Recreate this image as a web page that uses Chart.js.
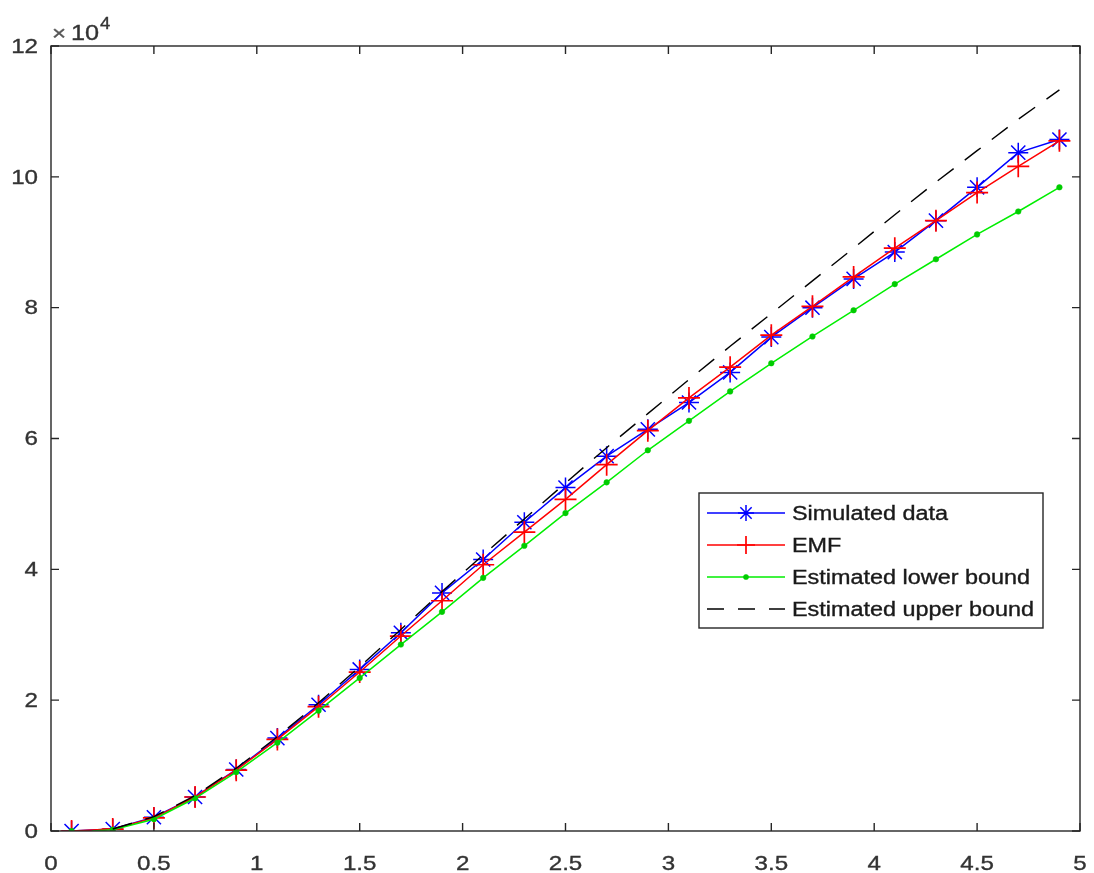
<!DOCTYPE html>
<html>
<head>
<meta charset="utf-8">
<script src="https://cdn.jsdelivr.net/npm/chart.js@4"></script>
<style>
  html, body { margin: 0; padding: 0; background: #fff; }
  #wrap { width: 1094px; height: 873px; }
</style>
</head>
<body>
<div id="wrap"><canvas id="c" width="1094" height="873"></canvas></div>
<script>
// Sample positions shared by the measured series
const xs = [0.1, 0.3, 0.5, 0.7, 0.9, 1.1, 1.3, 1.5, 1.7, 1.9, 2.1, 2.3, 2.5,
            2.7, 2.9, 3.1, 3.3, 3.5, 3.7, 3.9, 4.1, 4.3, 4.5, 4.7, 4.9];

// Simulated data
const simulated = [0, 300, 2100, 5200, 9400, 14200, 19300, 24700, 30300, 36400,
                   41500, 47200, 52500, 57300, 61400, 65500, 70100, 75500, 80000,
                   84400, 88500, 93300, 98400, 103700, 105700];

// EMF
const emf = [0, 300, 2000, 5200, 9300, 14000, 19000, 24300, 29800, 35200,
             40700, 45700, 50700, 56000, 61200, 66200, 70900, 75800, 80200,
             84700, 89100, 93300, 97600, 101600, 105500];

// Estimated lower bound (isolated value at 0.1, curve from 0.2 on)
const lowerX = [0.1, 0.15, 0.2, 0.3, 0.5, 0.7, 0.9, 1.1, 1.3, 1.5, 1.7, 1.9, 2.1,
                2.3, 2.5, 2.7, 2.9, 3.1, 3.3, 3.5, 3.7, 3.9, 4.1, 4.3, 4.5, 4.7, 4.9];
const lower = [0, null, 0, 200, 1800, 5000, 9000, 13500, 18400, 23400, 28500,
               33500, 38700, 43600, 48600, 53300, 58200, 62700, 67200, 71500,
               75600, 79600, 83600, 87400, 91200, 94700, 98400];

// Estimated upper bound
const upperX = [0.3, 0.5, 0.7, 0.9, 1.1, 1.3, 1.5, 1.7, 1.9, 2.1, 2.3, 2.5, 2.7,
                2.9, 3.1, 3.3, 3.5, 3.7, 3.9, 4.1, 4.3, 4.5, 4.7, 4.9];
const upper = [300, 2200, 5400, 9600, 14400, 19600, 25100, 30800, 36600, 42200,
               47700, 53200, 58600, 63800, 69000, 74100, 79100, 84100, 89100,
               94200, 99200, 104000, 108800, 113300];

// Axis ticks
const xTicks = [0, 0.5, 1, 1.5, 2, 2.5, 3, 3.5, 4, 4.5, 5];
const yTicks = [0, 20000, 40000, 60000, 80000, 100000, 120000];
const yExponent = 4;

const seriesNames = ['Simulated data', 'EMF', 'Estimated lower bound', 'Estimated upper bound'];

const pairs = (X, Y) => X.map((x, i) => ({ x: x, y: Y[i] }));

const AXIS_COLOR = '#262626';
const FONT = '"Liberation Sans", Arial, sans-serif';

// Helvetica-like labels drawn slightly wide
function stretchText(ctx, txt, x, y, align, size, sx) {
  ctx.save();
  ctx.font = size + 'px ' + FONT;
  const w = ctx.measureText(txt).width * sx;
  const x0 = align === 'center' ? x - w / 2 : (align === 'right' ? x - w : x);
  ctx.translate(x0, y);
  ctx.scale(sx, 1);
  ctx.textAlign = 'left';
  ctx.lineWidth = 0.35;
  ctx.strokeStyle = ctx.fillStyle;
  ctx.fillText(txt, 0, 0);
  ctx.strokeText(txt, 0, 0);
  ctx.restore();
}

// Boxed axes with inward ticks on all four sides, tick labels and the exponent
const boxAxes = {
  id: 'boxAxes',
  afterDatasetsDraw(chart) {
    const { ctx, chartArea: a, scales } = chart;
    const xs_ = scales.x, ys_ = scales.y;
    const tl = 8;
    ctx.save();
    ctx.strokeStyle = AXIS_COLOR;
    ctx.lineWidth = 1.4;
    ctx.beginPath();
    xs_.ticks.forEach(t => {
      const px = xs_.getPixelForValue(t.value);
      ctx.moveTo(px, a.bottom); ctx.lineTo(px, a.bottom - tl);
      ctx.moveTo(px, a.top); ctx.lineTo(px, a.top + tl);
    });
    ys_.ticks.forEach(t => {
      const py = ys_.getPixelForValue(t.value);
      ctx.moveTo(a.left, py); ctx.lineTo(a.left + tl, py);
      ctx.moveTo(a.right, py); ctx.lineTo(a.right - tl, py);
    });
    ctx.stroke();
    ctx.strokeRect(a.left, a.top, a.right - a.left, a.bottom - a.top);

    ctx.fillStyle = '#333333';
    ctx.textBaseline = 'alphabetic';
    xs_.ticks.forEach(t => {
      stretchText(ctx, String(t.value), xs_.getPixelForValue(t.value), 870, 'center', 21, 1.15);
    });
    ctx.textBaseline = 'middle';
    const f = Math.pow(10, yExponent);
    ys_.ticks.forEach(t => {
      stretchText(ctx, String(t.value / f), a.left - 13, ys_.getPixelForValue(t.value) + 1, 'right', 21, 1.15);
    });
    ctx.textBaseline = 'alphabetic';
    ctx.fillStyle = '#555555';
    stretchText(ctx, '\u00d7', a.left + 1, 40, 'left', 21, 1.15);
    ctx.fillStyle = '#333333';
    stretchText(ctx, '10', a.left + 20, 40, 'left', 22, 1.15);
    stretchText(ctx, String(yExponent), a.left + 49, 29, 'left', 16, 1.15);
    ctx.restore();
  }
};

// Boxed legend inside the plot area, built from the datasets
const boxLegend = {
  id: 'boxLegend',
  afterDraw(chart) {
    const { ctx } = chart;
    const bx = 699, by = 493, bw = 344, bh = 135;
    ctx.save();
    ctx.fillStyle = '#fff';
    ctx.fillRect(bx, by, bw, bh);
    ctx.strokeStyle = AXIS_COLOR;
    ctx.lineWidth = 1.4;
    ctx.strokeRect(bx, by, bw, bh);
    chart.data.datasets.forEach((ds, i) => {
      const cy = 513 + i * 32;
      ctx.save();
      ctx.strokeStyle = ds.borderColor;
      ctx.lineWidth = ds.borderWidth;
      ctx.setLineDash(ds.legendDash || []);
      ctx.beginPath();
      ctx.moveTo(707, cy); ctx.lineTo(785, cy);
      ctx.stroke();
      ctx.setLineDash([]);
      if (ds.legendRadius) {
        ctx.fillStyle = ds.pointBackgroundColor;
        ctx.strokeStyle = ds.pointBorderColor;
        ctx.lineWidth = ds.pointBorderWidth;
        Chart.helpers.drawPoint(ctx, {
          pointStyle: ds.pointStyle, radius: ds.legendRadius, rotation: 0,
          borderWidth: ds.pointBorderWidth
        }, 746, cy);
      }
      ctx.restore();
      ctx.fillStyle = '#1a1a1a';
      ctx.textBaseline = 'middle';
      stretchText(ctx, ds.label, 792, cy + 1.5, 'left', 19.5, 1.2);
    });
    ctx.restore();
  }
};

new Chart(document.getElementById('c'), {
  type: 'line',
  data: {
    datasets: [
      {
        label: seriesNames[0], data: pairs(xs, simulated), order: 4,
        borderColor: '#0000ff', borderWidth: 1.5,
        pointStyle: 'star', pointRadius: 10, legendRadius: 8,
        pointBorderColor: '#0000ff', pointBackgroundColor: '#0000ff', pointBorderWidth: 1.5
      },
      {
        label: seriesNames[1], data: pairs(xs, emf), order: 3,
        borderColor: '#ff0000', borderWidth: 1.5,
        pointStyle: 'cross', pointRadius: 11, legendRadius: 9,
        pointBorderColor: '#ff0000', pointBackgroundColor: '#ff0000', pointBorderWidth: 1.7
      },
      {
        label: seriesNames[2], data: pairs(lowerX, lower), order: 2,
        borderColor: '#00ee00', borderWidth: 1.5, spanGaps: false,
        pointStyle: 'circle',
        pointRadius: c => (c.raw && xs.includes(c.raw.x)) ? 2.8 : 0,
        legendRadius: 2.6,
        pointBorderColor: '#00cc00', pointBackgroundColor: '#00cc00', pointBorderWidth: 0.5
      },
      {
        label: seriesNames[3], data: pairs(upperX, upper), order: 1,
        borderColor: '#000000', borderWidth: 1.4, borderDash: [20, 14], legendDash: [17, 14],
        pointRadius: 0, legendRadius: 0
      }
    ]
  },
  options: {
    responsive: false,
    animation: false,
    devicePixelRatio: 1,
    layout: { padding: { left: 0, top: 46, right: 14, bottom: 0 } },
    plugins: { legend: { display: false }, tooltip: { enabled: false } },
    elements: { line: { tension: 0, fill: false }, point: { hoverRadius: 0 } },
    scales: {
      x: {
        type: 'linear', min: 0, max: 5,
        afterBuildTicks: s => { s.ticks = xTicks.map(v => ({ value: v })); },
        afterFit: s => { s.height = 42; },
        ticks: { display: false },
        grid: { display: false }, border: { display: false }
      },
      y: {
        type: 'linear', min: 0, max: 120000,
        afterBuildTicks: s => { s.ticks = yTicks.map(v => ({ value: v })); },
        afterFit: s => { s.width = 51; },
        ticks: { display: false },
        grid: { display: false }, border: { display: false }
      }
    }
  },
  plugins: [boxAxes, boxLegend]
});
</script>
</body>
</html>
